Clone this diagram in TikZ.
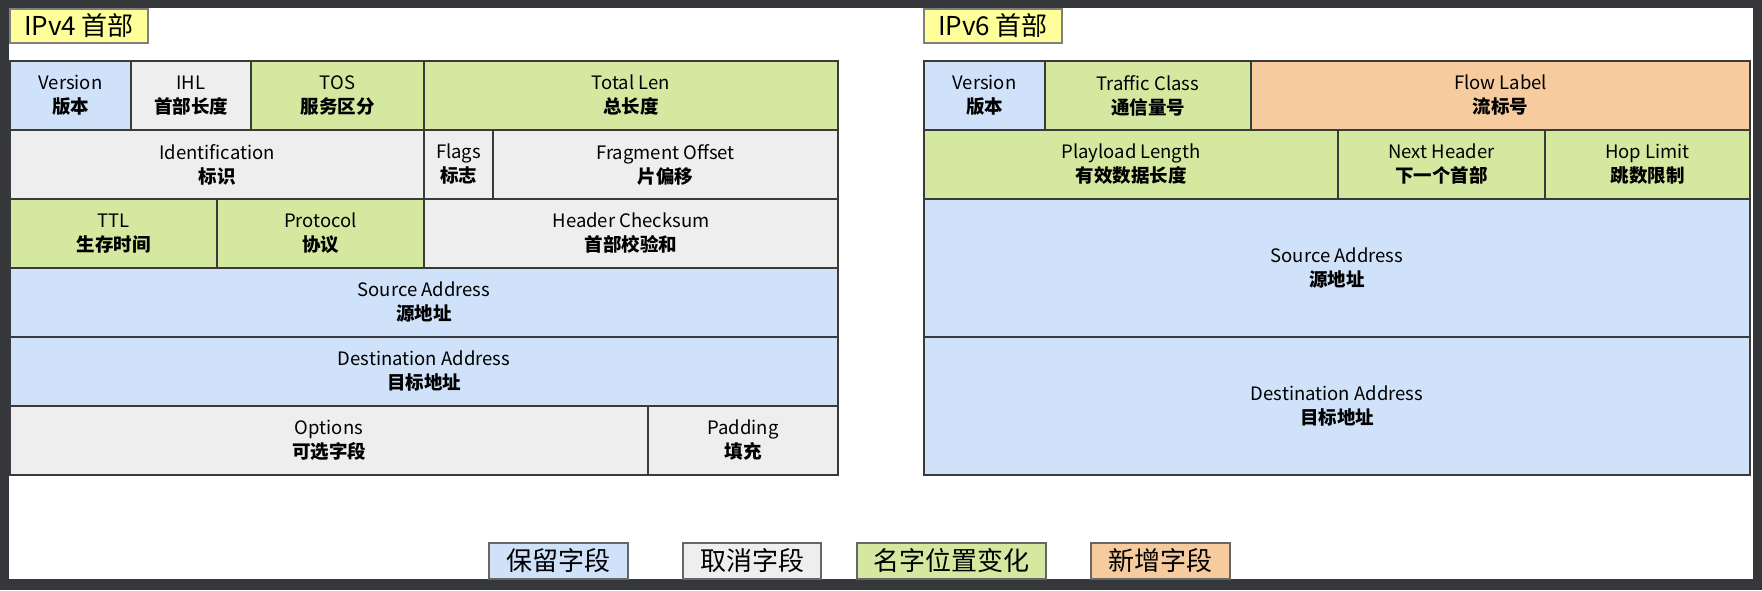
\documentclass[tikz,border=0pt]{standalone}
\usepackage{fontspec}
\setmainfont{Noto Sans CJK SC}
\usepackage{tikz}

\definecolor{frameDark}{HTML}{35373B}
\definecolor{keepBlue}{HTML}{CFE2FA}
\definecolor{dropGray}{HTML}{EEEEEE}
\definecolor{moveGreen}{HTML}{D5E8A0}
\definecolor{newOrange}{HTML}{F6CB9D}
\definecolor{titleYellow}{HTML}{FFFF99}
\definecolor{edgeGray}{HTML}{3A3A3A}

\begin{document}
\begin{tikzpicture}[x=1pt,y=-1pt,line join=miter,
    field/.style={draw=edgeGray,line width=1.3pt,inner sep=0pt,outer sep=0pt,anchor=north west,
                  align=center,font=\fontsize{18.5}{24}\selectfont},
    keepfield/.style={field,fill=keepBlue},
    dropfield/.style={field,fill=dropGray},
    movefield/.style={field,fill=moveGreen},
    newfield/.style={field,fill=newOrange},
    titlebox/.style={draw=gray,line width=1.2pt,fill=titleYellow,inner sep=0pt,outer sep=0pt,anchor=north west,
                     minimum width=138pt,minimum height=34pt,font=\fontsize{26}{28}\selectfont},
    legendbox/.style={draw=gray!80!black,line width=1.2pt,inner sep=0pt,outer sep=0pt,anchor=north west,
                      minimum height=36pt,font=\fontsize{26}{28}\selectfont}]
% ---- 画布（pt，原点=位图左上角，y 向下）----
\useasboundingbox (0,0) rectangle (1762,590);
\fill[frameDark] (0,0) rectangle (1762,590);
\fill[white] (9,8) rectangle (1753,579);
% ---- 标题 ----
\node[titlebox] (v4title) at (10,9)  {IPv4 首部};
\node[titlebox] (v6title) at (924,9) {IPv6 首部};
% ---- IPv4 首部：每行高 69 ----
\node[keepfield,minimum width=121pt,minimum height=69pt] (v4ver)   at (10,61)  {Version\\\textbf{版本}};
\node[dropfield,minimum width=120pt,minimum height=69pt] (v4ihl)   at (131,61) {IHL\\\textbf{首部长度}};
\node[movefield,minimum width=173pt,minimum height=69pt] (v4tos)   at (251,61) {TOS\\\textbf{服务区分}};
\node[movefield,minimum width=414pt,minimum height=69pt] (v4len)   at (424,61) {Total Len\\\textbf{总长度}};
\node[dropfield,minimum width=414pt,minimum height=69pt] (v4id)    at (10,130) {Identification\\\textbf{标识}};
\node[dropfield,minimum width=69pt, minimum height=69pt] (v4flags) at (424,130){Flags\\\textbf{标志}};
\node[dropfield,minimum width=345pt,minimum height=69pt] (v4frag)  at (493,130){Fragment Offset\\\textbf{片偏移}};
\node[movefield,minimum width=207pt,minimum height=69pt] (v4ttl)   at (10,199) {TTL\\\textbf{生存时间}};
\node[movefield,minimum width=207pt,minimum height=69pt] (v4proto) at (217,199){Protocol\\\textbf{协议}};
\node[dropfield,minimum width=414pt,minimum height=69pt] (v4sum)   at (424,199){Header Checksum\\\textbf{首部校验和}};
\node[keepfield,minimum width=828pt,minimum height=69pt] (v4src)   at (10,268) {Source Address\\\textbf{源地址}};
\node[keepfield,minimum width=828pt,minimum height=69pt] (v4dst)   at (10,337) {Destination Address\\\textbf{目标地址}};
\node[dropfield,minimum width=638pt,minimum height=69pt] (v4opt)   at (10,406) {Options\\\textbf{可选字段}};
\node[dropfield,minimum width=190pt,minimum height=69pt] (v4pad)   at (648,406){Padding\\\textbf{填充}};
% ---- IPv6 首部 ----
\node[keepfield,minimum width=121pt,minimum height=69pt]  (v6ver)  at (924,61)  {Version\\\textbf{版本}};
\node[movefield,minimum width=206pt,minimum height=69pt]  (v6tc)   at (1045,61) {Traffic Class\\\textbf{通信量号}};
\node[newfield, minimum width=499pt,minimum height=69pt]  (v6flow) at (1251,61) {Flow Label\\\textbf{流标号}};
\node[movefield,minimum width=414pt,minimum height=69pt]  (v6len)  at (924,130) {Playload Length\\\textbf{有效数据长度}};
\node[movefield,minimum width=207pt,minimum height=69pt]  (v6next) at (1338,130){Next Header\\\textbf{下一个首部}};
\node[movefield,minimum width=205pt,minimum height=69pt]  (v6hop)  at (1545,130){Hop Limit\\\textbf{跳数限制}};
\node[keepfield,minimum width=826pt,minimum height=138pt] (v6src)  at (924,199) {Source Address\\\textbf{源地址}};
\node[keepfield,minimum width=826pt,minimum height=138pt] (v6dst)  at (924,337) {Destination Address\\\textbf{目标地址}};
% ---- 图例 ----
\node[legendbox,fill=keepBlue, minimum width=139pt] (keyKeep) at (489,543)  {保留字段};
\node[legendbox,fill=dropGray, minimum width=138pt] (keyDrop) at (683,543)  {取消字段};
\node[legendbox,fill=moveGreen,minimum width=189pt] (keyMove) at (857,543)  {名字位置变化};
\node[legendbox,fill=newOrange,minimum width=139pt] (keyNew)  at (1091,543) {新增字段};
\end{tikzpicture}
\end{document}
